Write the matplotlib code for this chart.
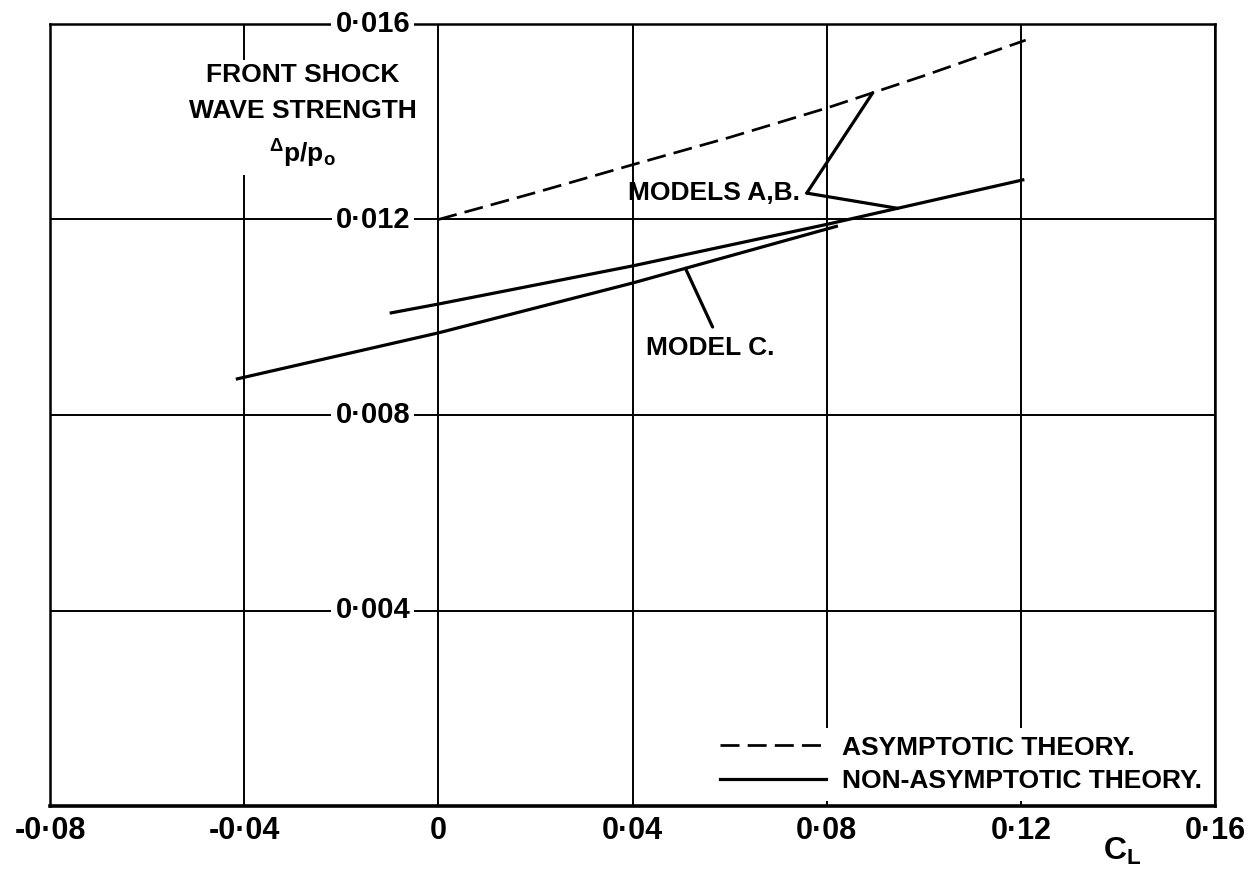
"""Front shock wave strength against lift coefficient."""

import numpy as np
import matplotlib
matplotlib.use('Agg')
import matplotlib.pyplot as plt

plt.rcParams['font.family'] = ['Liberation Sans', 'DejaVu Sans']
plt.rcParams['font.weight'] = 'bold'
plt.rcParams['mathtext.fontset'] = 'custom'
plt.rcParams['mathtext.rm'] = 'Liberation Sans:bold'
plt.rcParams['mathtext.bf'] = 'Liberation Sans:bold'
plt.rcParams['mathtext.default'] = 'bf'

# asymptotic theory, models A,B (dashed)
asym_cl = [0.0, 0.02, 0.04, 0.06, 0.08, 0.10, 0.121]
asym_dp = [0.0120, 0.01255, 0.01312, 0.01368, 0.01428, 0.01494, 0.01567]

# non-asymptotic theory, models A,B
ab_cl = [-0.0097, 0.0, 0.04, 0.08, 0.1204]
ab_dp = [0.01009, 0.01027, 0.01105, 0.01190, 0.01281]

# non-asymptotic theory, model C
c_cl = [-0.0414, 0.0, 0.04, 0.082]
c_dp = [0.00874, 0.00968, 0.01070, 0.01186]

x_ticks = [-0.08, -0.04, 0.0, 0.04, 0.08, 0.12, 0.16]
x_labels = ['-0·08', '-0·04', '0', '0·04', '0·08', '0·12', '0·16']
y_ticks = [0.004, 0.008, 0.012, 0.016]
y_labels = ['0·004', '0·008', '0·012', '0·016']

FS = 19
LW = 2.3

fig = plt.figure(figsize=(12.47, 8.72), dpi=100)
ax = fig.add_axes([50 / 1247, 1 - 806 / 872, 1165 / 1247, 782 / 872])

asym_line, = ax.plot(asym_cl, asym_dp, color='black', lw=LW * 0.85,
                     dashes=(7, 3), label='ASYMPTOTIC THEORY.', zorder=4)
ab_line, = ax.plot(ab_cl, ab_dp, color='black', lw=LW,
                   label='NON-ASYMPTOTIC THEORY.', zorder=4)
ax.plot(c_cl, c_dp, color='black', lw=LW, zorder=4)

ax.set_xlim(-0.08, 0.16)
ax.set_ylim(0, 0.016)

# grid
ax.set_xticks(x_ticks)
ax.set_xticklabels(x_labels, fontsize=22)
ax.set_yticks(y_ticks)
ax.tick_params(length=0, pad=7)
ax.tick_params(axis='y', left=False, labelleft=False)
ax.grid(True, color='black', lw=1.4)
ax.set_axisbelow(True)
for s in ax.spines.values():
    s.set_linewidth(1.8)
ax.spines['bottom'].set_linewidth(2.6)

# y labels sit on the C_L = 0 line
for yv, lab in zip(y_ticks, y_labels):
    ax.text(-0.0058, yv, lab, ha='right', va='center', fontsize=21,
            bbox=dict(facecolor='white', edgecolor='none', pad=3),
            clip_on=False, zorder=5)

ax.text(-0.028, 0.0152, 'FRONT SHOCK\nWAVE STRENGTH\n' + r'$^{Δ}$p/p$_{o}$',
        ha='center', va='top', fontsize=FS, linespacing=1.6,
        bbox=dict(facecolor='white', edgecolor='none', pad=4), zorder=5)

# annotations
ab_pt_dash = (0.0895, np.interp(0.0895, asym_cl, asym_dp))
ab_pt_solid = (0.0946, np.interp(0.0946, ab_cl, ab_dp))
ab_corner = (0.0759, 0.01254)
ax.text(0.0745, 0.01254, 'MODELS A,B.', ha='right', va='center',
        fontsize=FS, zorder=5)
for pt in (ab_pt_dash, ab_pt_solid):
    ax.annotate('', xy=pt, xytext=ab_corner,
                arrowprops=dict(arrowstyle='-', lw=LW, color='black',
                                shrinkA=0, shrinkB=0))

c_pt = (0.0509, np.interp(0.0509, c_cl, c_dp))
ax.annotate('', xy=c_pt, xytext=(0.0565, 0.00980),
            arrowprops=dict(arrowstyle='-', lw=LW, color='black',
                            shrinkA=0, shrinkB=0))
ax.text(0.0427, 0.00937, 'MODEL C.', ha='left', va='center', fontsize=FS)

ax.set_xlabel(r'C$_{L}$', fontsize=23, fontweight='bold')
ax.xaxis.set_label_coords(0.92, -0.038)

leg = ax.legend(handles=[asym_line, ab_line], loc='lower right',
                fontsize=FS, handlelength=4.0, handletextpad=0.6,
                labelspacing=0.35, borderpad=0.3, borderaxespad=0.2,
                frameon=True, fancybox=False)
leg.get_frame().set_facecolor('white')
leg.get_frame().set_edgecolor('none')
leg.get_frame().set_alpha(1)
leg.set_zorder(6)

plt.savefig('out.png', dpi=100)
